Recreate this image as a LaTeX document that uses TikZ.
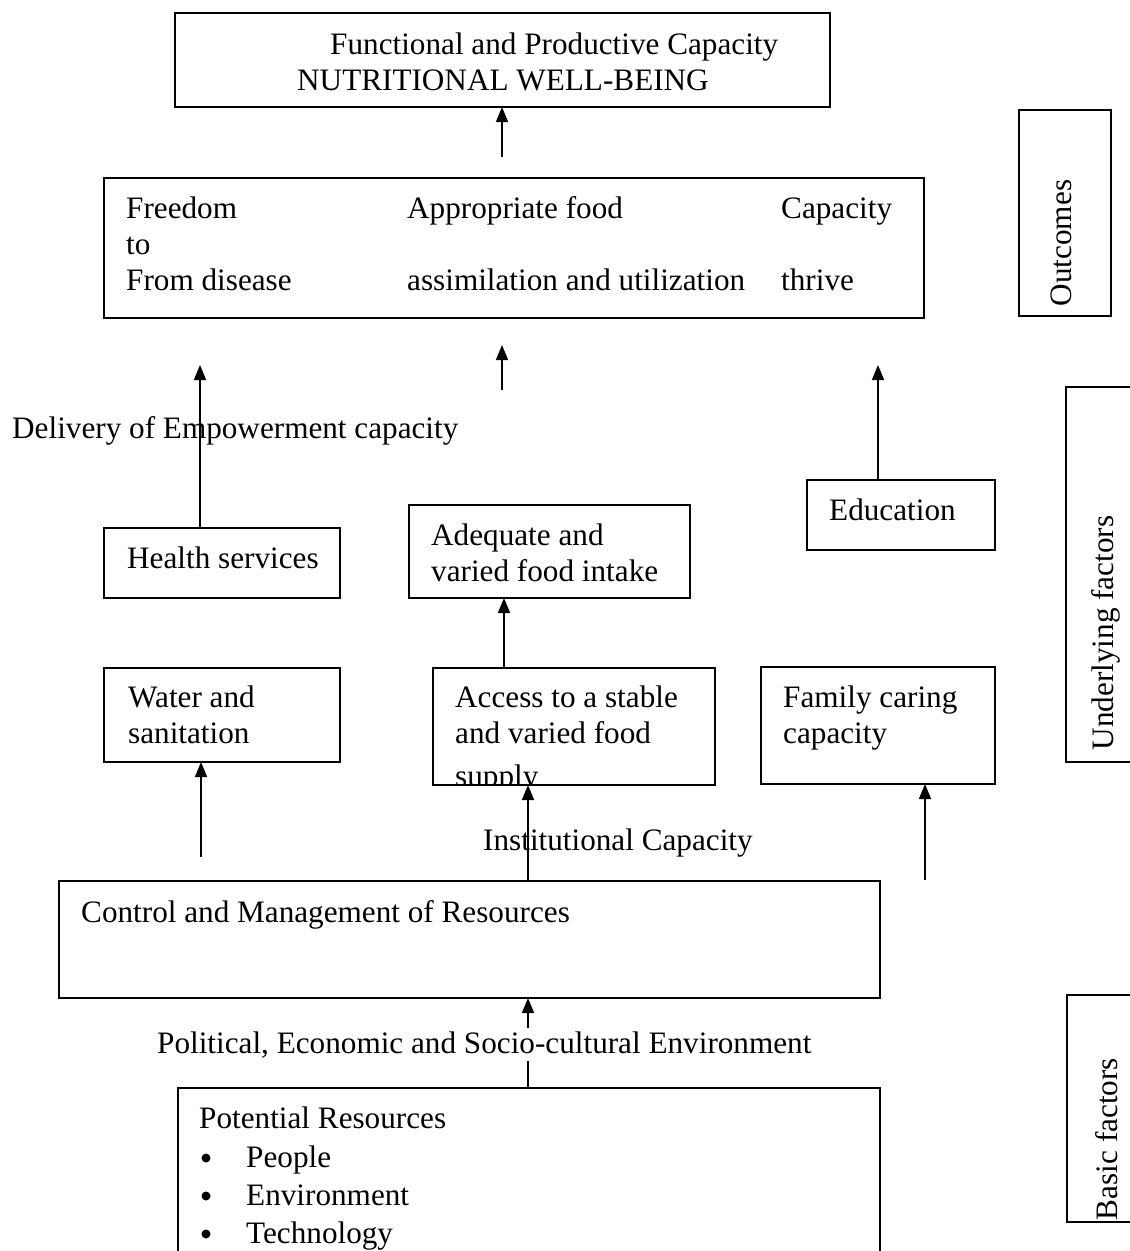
\documentclass[tikz,border=0pt]{standalone}
\usepackage{fontspec}
\setmainfont{Liberation Serif}
\usetikzlibrary{arrows.meta}
\begin{document}
\begin{tikzpicture}[x=1pt,y=-1pt,
  font=\fontsize{31.2}{36}\selectfont,
  box/.style={draw, line width=1.6pt, inner sep=0pt, outer sep=0pt, anchor=north west},
  txt/.style={anchor=base west, inner sep=0pt},
  dot/.style={circle, fill, inner sep=0pt, minimum size=9pt},
  conn/.style={line width=1.6pt, -{Triangle[length=15pt,width=12pt]}},
  plain/.style={line width=1.6pt}]
\clip (0,0) rectangle (1130,1251);
\fill[white] (0,0) rectangle (1130,1251);

% top box
\node[box, minimum width=655, minimum height=94] (top) at (175,13) {};
\node[txt] (t1) at (330,54) {Functional and Productive Capacity};
\node[txt] (t2) at (297,90) {NUTRITIONAL WELL-BEING};

% outcomes box
\node[box, minimum width=820, minimum height=140] (out) at (104,178) {};
\node[txt] (o1) at (126,218) {Freedom};
\node[txt] (o2) at (126,254) {to};
\node[txt] (o3) at (126,290) {From disease};
\node[txt] (o4) at (407,218) {Appropriate food};
\node[txt] (o5) at (407,290) {assimilation and utilization};
\node[txt] (o6) at (781,218) {Capacity};
\node[txt] (o7) at (781,290) {thrive};

% right side labels
\node[box, minimum width=92, minimum height=206] (rOut) at (1019,110) {};
\node[rotate=90, anchor=center, inner sep=0pt] (lOut) at (1061,243) {Outcomes};
\node[box, minimum width=100, minimum height=375] (rUnd) at (1066,387) {};
\node[rotate=90, anchor=center, inner sep=0pt] (lUnd) at (1106,633) {Underlying factors};
\node[box, minimum width=100, minimum height=227] (rBas) at (1067,995) {};
\node[rotate=90, anchor=center, inner sep=0pt] (lBas) at (1107,1139) {Basic factors};

% middle level
\node[txt] (deliv) at (12,438) {Delivery of Empowerment capacity};
\node[box, minimum width=236, minimum height=70] (health) at (104,528) {};
\node[txt] (h1) at (127,568) {Health services};
\node[box, minimum width=281, minimum height=93] (adeq) at (409,505) {};
\node[txt] (a1) at (431,545) {Adequate and};
\node[txt] (a2) at (431,581) {varied food intake};
\node[box, minimum width=188, minimum height=70] (edu) at (807,480) {};
\node[txt] (e1) at (829,520) {Education};

\node[box, minimum width=236, minimum height=94] (water) at (104,668) {};
\node[txt] (w1) at (128,707) {Water and};
\node[txt] (w2) at (128,743) {sanitation};
\begin{scope}
\clip (433,668) rectangle (715,784);
\node[txt] (s1) at (455,707) {Access to a stable};
\node[txt] (s2) at (455,743) {and varied food};
\node[txt] (s3) at (455,786) {supply};
\end{scope}
\node[box, minimum width=282, minimum height=117] (access) at (433,668) {};
\node[box, minimum width=234, minimum height=117] (family) at (761,667) {};
\node[txt] (f1) at (783,707) {Family caring};
\node[txt] (f2) at (783,743) {capacity};

% control box
\node[box, minimum width=821, minimum height=117] (control) at (59,881) {};
\node[txt] (c1) at (81,922) {Control and Management of Resources};

% potential resources
\node[box, minimum width=702, minimum height=220] (pot) at (178,1088) {};
\node[txt] (p0) at (199,1128) {Potential Resources};
\node[dot] (b1) at (206,1158) {};
\node[txt] (p1) at (246,1167) {People};
\node[dot] (b2) at (206,1196) {};
\node[txt] (p2) at (246,1205) {Environment};
\node[dot] (b3) at (206,1234) {};
\node[txt] (p3) at (246,1243) {Technology};

% connectors
\coordinate (k1) at (502,157);
\draw[conn] (k1) -- (k1 |- top.south);
\coordinate (k2a) at (502,390);
\coordinate (k2b) at (502,345);
\draw[conn] (k2a) -- (k2b);
\coordinate (k3) at (200,365);
\draw[conn] (health.north -| k3) -- (k3);
\coordinate (k4) at (878,365);
\draw[conn] (edu.north -| k4) -- (k4);
\coordinate (k5) at (504,600);
\draw[conn] (access.north -| k5) -- (adeq.south -| k5);
\coordinate (k6) at (201,857);
\draw[conn] (k6) -- (k6 |- water.south);
\coordinate (k7) at (528,880);
\draw[conn] (control.north -| k7) -- (access.south -| k7);
\node[txt] (inst) at (483,850) {Institutional Capacity};
\coordinate (k8) at (925,880);
\draw[conn] (k8) -- (k8 |- family.south);
\coordinate (k9) at (528,1000);
\draw[conn] (pot.north -| k9) -- (control.south -| k9);
\node[fill=white, inner sep=3pt, anchor=base west] (pol) at (154,1053) {Political, Economic and Socio-cultural Environment};
\end{tikzpicture}
\end{document}
